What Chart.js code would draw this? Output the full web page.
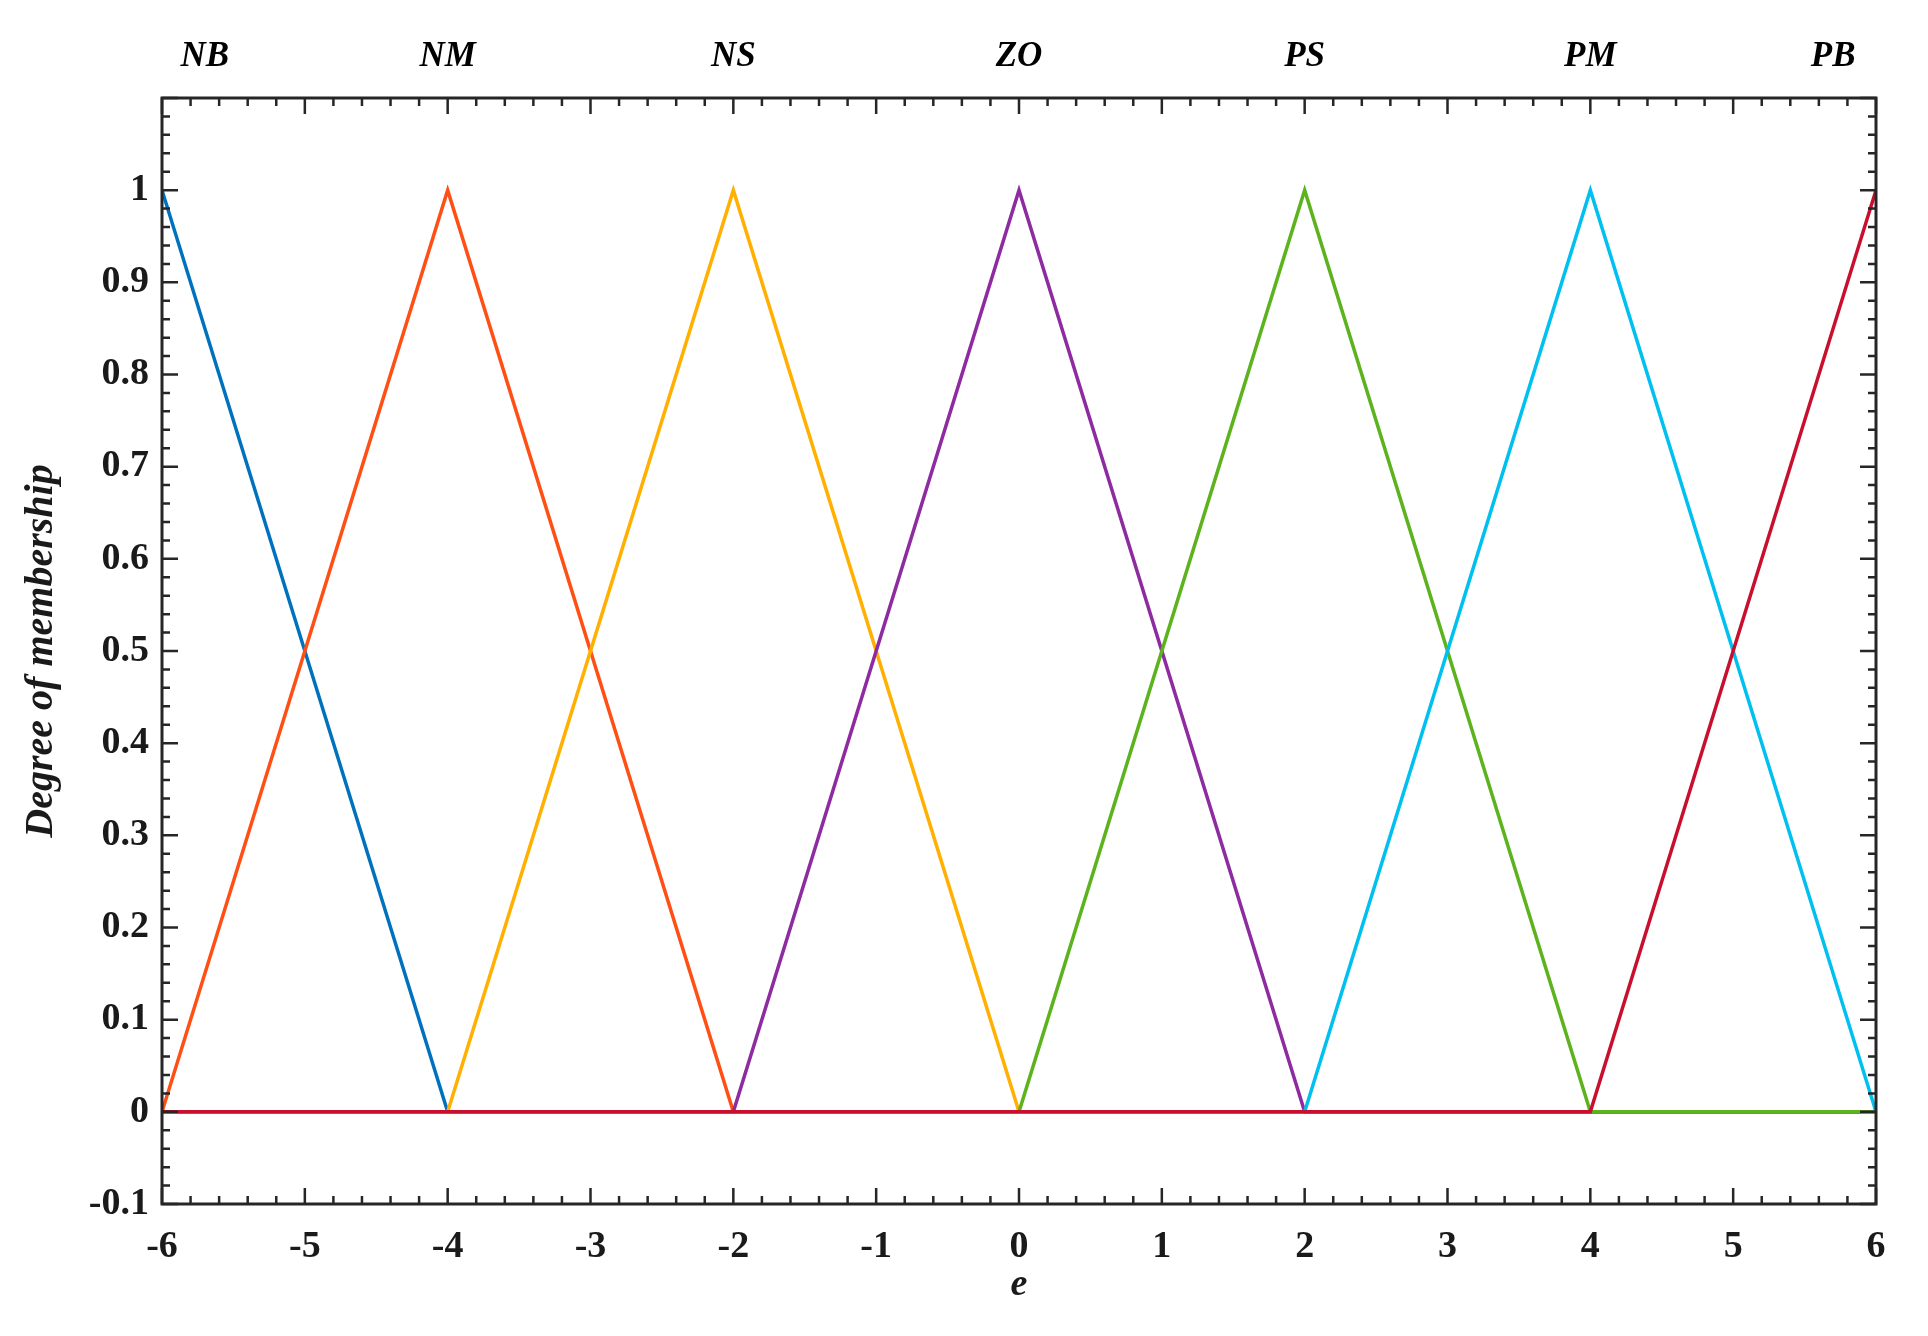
<!DOCTYPE html>
<html lang="en">
<head>
    <meta charset="UTF-8">
    <title>Membership functions</title>
    <script src="https://cdn.jsdelivr.net/npm/chart.js"></script>
    <style>
        body { margin: 0; padding: 0; background: #fff; }
        #wrap { width: 1928px; height: 1336px; }
    </style>
</head>
<body>
    <div id="wrap"><canvas id="mf-chart" width="1928" height="1336"></canvas></div>

    <script>
        // Breakpoints of the triangular membership functions
        const ePoints = [-6, -4, -2, 0, 2, 4, 6];
        const setNames = ['NB', 'NM', 'NS', 'ZO', 'PS', 'PM', 'PB'];
        const nbValues = [1, 0, 0, 0, 0, 0, 0];
        const nmValues = [0, 1, 0, 0, 0, 0, 0];
        const nsValues = [0, 0, 1, 0, 0, 0, 0];
        const zoValues = [0, 0, 0, 1, 0, 0, 0];
        const psValues = [0, 0, 0, 0, 1, 0, 0];
        const pmValues = [0, 0, 0, 0, 0, 1, 0];
        const pbValues = [0, 0, 0, 0, 0, 0, 1];
        const labelPos = [-5.7, -4, -2, 0, 2, 4, 5.7];
        const colors = ['#0072BD', '#FF4F14', '#FFB000', '#8E2BA0', '#5CB31E', '#00C0F0', '#C8102E'];

        const allValues = [nbValues, nmValues, nsValues, zoValues, psValues, pmValues, pbValues];
        const serif = '"Liberation Serif", "DejaVu Serif", serif';
        const axisColor = '#262626';

        const datasets = allValues.map((vals, i) => ({
            label: setNames[i],
            data: ePoints.map((x, k) => ({ x: x, y: vals[k] })),
            borderColor: colors[i],
            borderWidth: 3.5,
            pointRadius: 0,
            fill: false,
            tension: 0,
            order: allValues.length - i // later sets on top, like MATLAB
        }));

        // box, inside ticks (both sides) and set names above the plot
        const framePlugin = {
            id: 'frame',
            afterDatasetsDraw(chart) {
                const ctx = chart.ctx;
                const a = chart.chartArea;
                const xs = chart.scales.x, ys = chart.scales.y;
                ctx.save();
                ctx.strokeStyle = axisColor;
                ctx.lineWidth = 3;
                ctx.strokeRect(a.left, a.top, a.right - a.left, a.bottom - a.top);

                ctx.lineWidth = 2.5;
                ctx.beginPath();
                for (let i = 0; i <= 60; i++) {
                    const v = -6 + i * 0.2;
                    const px = xs.getPixelForValue(v);
                    const len = (i % 5 === 0) ? 16 : 8;
                    ctx.moveTo(px, a.bottom); ctx.lineTo(px, a.bottom - len);
                    ctx.moveTo(px, a.top); ctx.lineTo(px, a.top + len);
                }
                for (let i = 0; i <= 60; i++) {
                    const v = -0.1 + i * 0.02;
                    const py = ys.getPixelForValue(v);
                    const len = (i % 5 === 0) ? 16 : 8;
                    ctx.moveTo(a.left, py); ctx.lineTo(a.left + len, py);
                    ctx.moveTo(a.right, py); ctx.lineTo(a.right - len, py);
                }
                ctx.stroke();

                ctx.fillStyle = '#000';
                ctx.font = 'italic bold 35px ' + serif;
                ctx.textAlign = 'center';
                ctx.textBaseline = 'alphabetic';
                setNames.forEach((name, i) => {
                    ctx.fillText(name, xs.getPixelForValue(labelPos[i]), 66);
                });
                ctx.restore();
            }
        };

        new Chart(document.getElementById('mf-chart'), {
            type: 'line',
            data: { datasets: datasets },
            options: {
                responsive: false,
                animation: false,
                layout: { padding: { top: 98, right: 52, left: 0, bottom: 0 } },
                plugins: { legend: { display: false }, tooltip: { enabled: false } },
                scales: {
                    x: {
                        type: 'linear',
                        min: -6,
                        max: 6,
                        grid: { display: false },
                        border: { display: false },
                        ticks: {
                            stepSize: 1,
                            color: '#1a1a1a',
                            padding: 12,
                            font: { family: serif, size: 38, weight: 'bold' }
                        },
                        title: {
                            display: true,
                            text: 'e',
                            color: '#1a1a1a',
                            align: 'center',
                            padding: { top: 0, bottom: 28 },
                            font: { family: serif, size: 38, weight: 'bold', style: 'italic' }
                        },
                        afterFit(scale) { scale.height = 132; }
                    },
                    y: {
                        min: -0.1,
                        max: 1.1,
                        grid: { display: false },
                        border: { display: false },
                        ticks: {
                            stepSize: 0.1,
                            color: '#1a1a1a',
                            padding: 5,
                            font: { family: serif, size: 38, weight: 'bold' },
                            callback: (v) => {
                                const r = Math.round(v * 10) / 10;
                                return r > 1 ? '' : String(r);
                            }
                        },
                        title: {
                            display: true,
                            text: 'Degree of membership',
                            color: '#1a1a1a',
                            padding: { top: 18, bottom: 0 },
                            font: { family: serif, size: 40, weight: 'bold', style: 'italic' }
                        },
                        afterFit(scale) { scale.width = 162; }
                    }
                }
            },
            plugins: [framePlugin]
        });
    </script>
</body>
</html>
